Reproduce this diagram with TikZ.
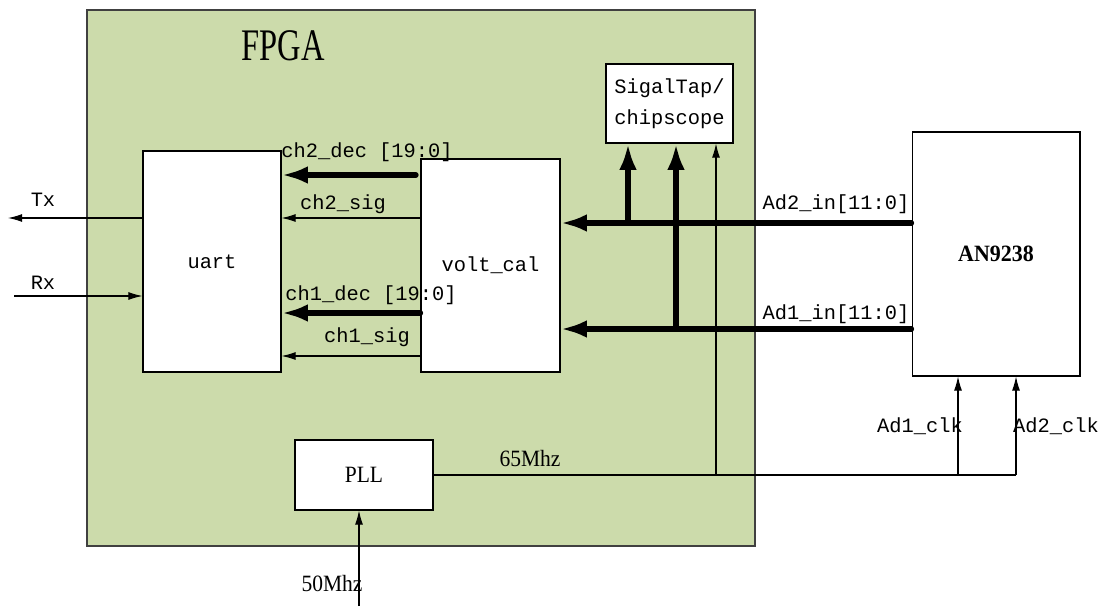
\documentclass[tikz,border=0pt]{standalone}
\usepackage{graphicx}
\usepackage{fontspec}
\setmainfont{Liberation Serif}
\setmonofont{Liberation Mono}
\usepackage{tikz}
\usetikzlibrary{arrows.meta}

\definecolor{fpgagreen}{RGB}{204,219,171}
\definecolor{fpgaedge}{RGB}{64,64,64}
\newcommand{\narrow}[2][0.92]{\scalebox{#1}[1]{#2}}

\begin{document}
\begin{tikzpicture}[x=0.02cm,y=-0.02cm,>={Latex[length=8pt,width=4.5pt]},line width=0.6pt,
  box node/.style={rectangle,draw,fill=white,inner sep=0pt,font=\fontsize{11.6}{17.5}\ttfamily},
  lbl node/.style={inner sep=0pt,anchor=base,font=\fontsize{11.6}{14}\ttfamily},
  tag node/.style={inner sep=0pt,anchor=base,font=\fontsize{13.3}{16}\rmfamily},
  bus/.style={line width=3pt,line cap=round,>={Latex[length=15pt,width=10pt]}}]
  \useasboundingbox (0,0) rectangle (1104,608);
  \draw[fpgaedge,fill=fpgagreen] (87,10) rectangle (755,546);
  \node[tag node] (fpga) at (283,61) {\narrow[0.72]{\fontsize{25.7}{30}\selectfont FPGA}};

  \node[box node,minimum width=2.76cm,minimum height=4.42cm] (uart) at (212,261.5) {uart};
  \node[box node,minimum width=2.78cm,minimum height=4.26cm] (volt) at (490.5,265.5) {volt\_cal};
  \node[box node,minimum width=2.54cm,minimum height=1.58cm,align=center] (tap) at (669.5,103.5) {SigalTap/\\chipscope};
  \node[box node,minimum width=3.36cm,minimum height=4.88cm,font=\fontsize{13.3}{16}\rmfamily\bfseries] (adc) at (996,254) {\narrow[0.94]{AN9238}};
  \node[box node,minimum width=2.76cm,minimum height=1.4cm,font=\fontsize{13.3}{16}\rmfamily] (pll) at (364,475) {\narrow{PLL}};

  \coordinate (tx) at (8,218);
  \coordinate (rx) at (14,296);
  \coordinate (c2d) at (416,175);
  \coordinate (b2) at (628,223);
  \coordinate (b1) at (676,329);
  \coordinate (ct) at (716,475);
  \coordinate (k1) at (958,475);
  \coordinate (k2) at (1016,475);
  \coordinate (in50) at (359,606);

  \path
    (uart.west |- tx) edge [->] (tx)
    (rx) edge [->] (uart.west |- rx)
    (c2d) edge [bus,->] (uart.east |- c2d)
    (volt.west |- 0,218) edge [->] (uart.east |- 0,218)
    (volt.west |- 0,313) edge [bus,->] (uart.east |- 0,313)
    (volt.west |- 0,356) edge [->] (uart.east |- 0,356)
    (adc.west |- b2) edge [bus,->] (volt.east |- b2)
    (adc.west |- b1) edge [bus,->] (volt.east |- b1)
    (b2) edge [bus,->] (b2 |- tap.south)
    (b1) edge [bus,->] (b1 |- tap.south)
    (ct) edge [->] (ct |- tap.south)
    (pll.east) edge (k2)
    (k1) edge [->] (k1 |- adc.south)
    (k2) edge [->] (k2 |- adc.south)
    (in50) edge [->] (pll.south -| in50);

  \node[lbl node] (ltx) at (43,206) {Tx};
  \node[lbl node] (lrx) at (43,289) {Rx};
  \node[lbl node] (l2d) at (367,157) {ch2\_dec [19:0]};
  \node[lbl node] (l2s) at (343,209) {ch2\_sig};
  \node[lbl node] (l1d) at (371,300) {ch1\_dec [19:0]};
  \node[lbl node] (l1s) at (367,342) {ch1\_sig};
  \node[lbl node] (la2) at (836,209) {Ad2\_in[11:0]};
  \node[lbl node] (la1) at (836,319) {Ad1\_in[11:0]};
  \node[lbl node] (lk1) at (920,432) {Ad1\_clk};
  \node[lbl node] (lk2) at (1056,432) {Ad2\_clk};
  \node[tag node] (l65) at (530,466) {\narrow{65Mhz}};
  \node[tag node] (l50) at (332,591) {\narrow{50Mhz}};
\end{tikzpicture}
\end{document}
